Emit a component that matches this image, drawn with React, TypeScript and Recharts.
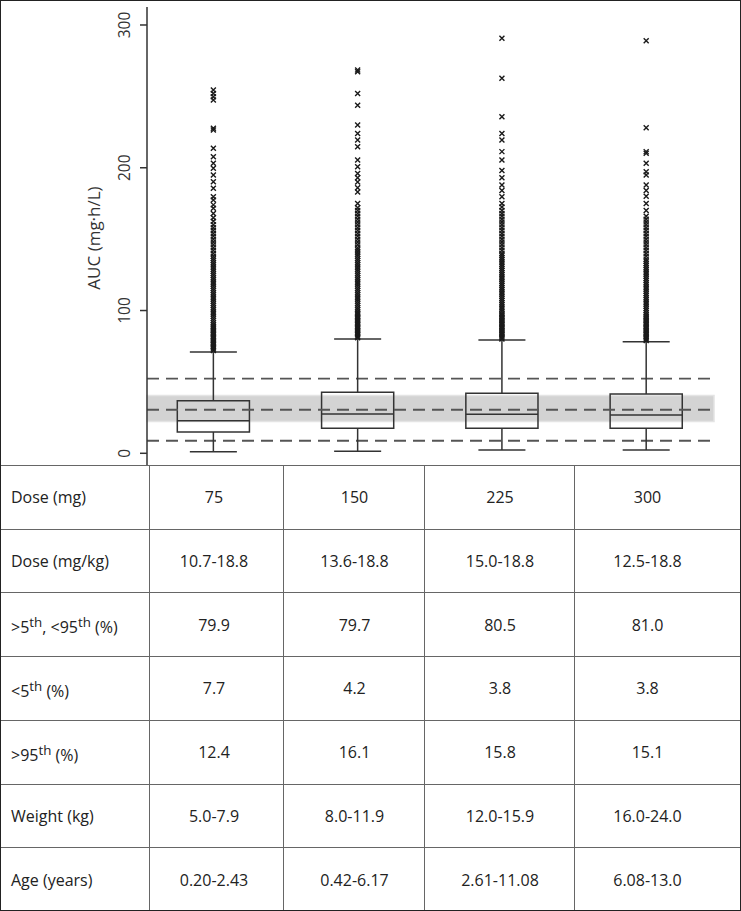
import React from "react";
import {
  ComposedChart,
  XAxis,
  YAxis,
  Scatter,
  ReferenceArea,
  ReferenceLine,
} from "recharts";

// Box plot summaries per dose group (AUC, mg·h/L)
const doses = ["75", "150", "225", "300"];
const whiskerLow = [1.1, 1.5, 2.3, 2.3];
const q1 = [14.9, 17.5, 17.5, 17.5];
const median = [22.8, 27.5, 27.3, 26.8];
const q3 = [36.8, 42.7, 42.0, 41.5];
const whiskerHigh = [71, 80, 79.4, 78.2];

// Target band and dashed reference levels
const targetBand = [22.3, 40.5];
const targetLines = [8.8, 30.5, 52.3];

const yTicks = [0, 100, 200, 300];

// Outliers (dense column, then sparse points)
const outliers75 = [
  72, 73, 74, 75, 76, 77, 78, 79, 80, 81, 82, 83, 84, 85, 86, 87, 88, 89, 90, 91.5, 93, 94.5, 96,
  97.5, 99, 100.5, 102, 103.5, 105, 106.5, 108, 109.5, 111, 112.5, 114, 115.5, 117, 118.5, 120,
  121.5, 123, 124.5, 126, 127.5, 129, 130.5, 132, 133.5, 135, 136.5, 138, 140, 142, 144, 146, 148,
  150, 152, 154, 156, 158, 160, 162.5, 165, 168, 171.6, 174, 177.4, 179.7, 185.6, 190.2, 194.9,
  199.6, 203.1, 207.7, 213.6, 226.4, 227.6, 247.5, 249.8, 252, 254.5,
];
const outliers150 = [
  81, 82, 83, 84, 85, 86, 87, 88, 89, 90, 91, 92, 93, 94, 95, 96, 97, 98, 99, 100.5, 102, 103.5,
  105, 106.5, 108, 109.5, 111, 112.5, 114, 115.5, 117, 118.5, 120, 121.5, 123, 124.5, 126, 127.5,
  129, 130.5, 132, 133.5, 135, 136.5, 138, 139.5, 141, 142.5, 144, 146, 148, 150, 152, 154, 156,
  158, 160, 162, 164, 166, 168, 170, 172, 175, 183, 186, 190, 193, 196, 200.7, 205.4, 214.7,
  219.4, 224, 230, 243.8, 252, 267.3, 268.5,
];
const outliers225 = [
  80, 81, 82, 83, 84, 85, 86, 87, 88, 89, 90, 91, 92, 93, 94, 95, 96, 97, 98, 99.5, 101, 102.5,
  104, 105.5, 107, 108.5, 110, 111.5, 113, 114.5, 116, 117.5, 119, 120.5, 122, 123.5, 125, 126.5,
  128, 129.5, 131, 132.5, 134, 135.5, 137, 138.5, 140, 142, 144, 146, 148, 150, 152, 154, 156,
  158, 160, 162, 164, 166, 168, 170, 172.5, 175, 179.7, 184, 188, 193, 198, 205.4, 211.3, 219.4,
  224, 235.8, 262.7, 290.7,
];
const outliers300 = [
  79, 80, 81, 82, 83, 84, 85, 86, 87, 88, 89, 90, 91, 92, 93, 94, 95, 96, 97, 98.5, 100, 101.5,
  103, 104.5, 106, 107.5, 109, 110.5, 112, 113.5, 115, 116.5, 118, 119.5, 121, 122.5, 124, 125.5,
  127, 128.5, 130, 131.5, 133, 134.5, 136, 138, 140, 142, 144, 146, 148, 150, 152, 154, 156, 158,
  160, 162, 164, 166, 170, 175, 180, 184, 188, 194.9, 197.2, 203.1, 210.1, 211.3, 228, 289,
];
const outlierGroups = [outliers75, outliers150, outliers225, outliers300];

// Table beneath the plot
const rowLabels: React.ReactNode[] = [
  "Dose (mg)",
  "Dose (mg/kg)",
  <>&gt;5<sup>th</sup>, &lt;95<sup>th</sup> (%)</>,
  <>&lt;5<sup>th</sup> (%)</>,
  <>&gt;95<sup>th</sup> (%)</>,
  "Weight (kg)",
  "Age (years)",
];
const doseMgKg = ["10.7-18.8", "13.6-18.8", "15.0-18.8", "12.5-18.8"];
const within = ["79.9", "79.7", "80.5", "81.0"];
const below5 = ["7.7", "4.2", "3.8", "3.8"];
const above95 = ["12.4", "16.1", "15.8", "15.1"];
const weights = ["5.0-7.9", "8.0-11.9", "12.0-15.9", "16.0-24.0"];
const ages = ["0.20-2.43", "0.42-6.17", "2.61-11.08", "6.08-13.0"];
const tableRows = [doses, doseMgKg, within, below5, above95, weights, ages];

const FONT = "'Open Sans', 'Noto Sans', sans-serif";
const INK = "#333";

const outlierData = outlierGroups.flatMap((vals, i) => vals.map(v => ({ x: i + 1, y: v })));

const Cross = (props: any) => {
  const { cx, cy } = props;
  if (cx == null || cy == null) return null;
  const s = 2.5;
  return (
    <path
      d={`M${cx - s},${cy - s}L${cx + s},${cy + s}M${cx + s},${cy - s}L${cx - s},${cy + s}`}
      stroke="#1a1a1a"
      strokeWidth={1.4}
      fill="none"
    />
  );
};

const YTick = (props: any) => {
  const { x, y, payload } = props;
  const tx = x - 8;
  return (
    <text
      x={tx}
      y={y}
      transform={`rotate(-90, ${tx}, ${y})`}
      textAnchor="middle"
      fontSize={15.5}
      fontFamily={FONT}
      fill={INK}
    >
      {payload.value}
    </text>
  );
};

const YLabel = (props: any) => {
  const { viewBox } = props;
  const x = viewBox.x + 13;
  const y = viewBox.y + viewBox.height / 2 + 2;
  return (
    <text
      x={x}
      y={y}
      transform={`rotate(-90, ${x}, ${y})`}
      textAnchor="middle"
      fontSize={17}
      fontFamily={FONT}
      fill={INK}
    >
      AUC (mg·h/L)
    </text>
  );
};

const HALF_BOX = 0.25;
const HALF_CAP = 0.163;
const boxStroke = { stroke: INK, strokeWidth: 1.5 };

export default function App() {
  const colWidths = [149, 134, 141, 150, 167];

  return (
    <div style={{ position: "absolute", left: 0, top: 0, width: 741, height: 911, background: "#fff" }}>
      <ComposedChart width={741} height={465} margin={{ top: 7, right: 27, bottom: 0, left: 87 }}>
        <XAxis type="number" dataKey="x" domain={[0.54, 4.47]} allowDataOverflow hide />
        <YAxis
          type="number"
          dataKey="y"
          width={60}
          domain={[-8.2, 312.6]}
          allowDataOverflow
          ticks={yTicks}
          tick={<YTick />}
          tickSize={7}
          stroke={INK}
          strokeWidth={1.5}
          label={<YLabel />}
        />

        <ReferenceArea
          y1={targetBand[0]}
          y2={targetBand[1]}
          fill="#d3d3d3"
          fillOpacity={1}
          stroke="#e4e4e4"
          strokeWidth={1.5}
        />
        {targetLines.map(v => (
          <ReferenceLine
            key={`t${v}`}
            y={v}
            stroke="#555"
            strokeWidth={1.8}
            strokeDasharray="12 7"
          />
        ))}

        {doses.map((d, i) => (
          <ReferenceArea
            key={`box${d}`}
            x1={i + 1 - HALF_BOX}
            x2={i + 1 + HALF_BOX}
            y1={q1[i]}
            y2={q3[i]}
            fill="none"
            fillOpacity={0}
            {...boxStroke}
          />
        ))}
        {doses.map((d, i) => (
          <ReferenceLine
            key={`med${d}`}
            segment={[{ x: i + 1 - HALF_BOX, y: median[i] }, { x: i + 1 + HALF_BOX, y: median[i] }]}
            {...boxStroke}
          />
        ))}
        {doses.map((d, i) => (
          <ReferenceLine
            key={`wu${d}`}
            segment={[{ x: i + 1, y: q3[i] }, { x: i + 1, y: whiskerHigh[i] }]}
            {...boxStroke}
          />
        ))}
        {doses.map((d, i) => (
          <ReferenceLine
            key={`wl${d}`}
            segment={[{ x: i + 1, y: whiskerLow[i] }, { x: i + 1, y: q1[i] }]}
            {...boxStroke}
          />
        ))}
        {doses.map((d, i) => (
          <ReferenceLine
            key={`cu${d}`}
            segment={[{ x: i + 1 - HALF_CAP, y: whiskerHigh[i] }, { x: i + 1 + HALF_CAP, y: whiskerHigh[i] }]}
            {...boxStroke}
          />
        ))}
        {doses.map((d, i) => (
          <ReferenceLine
            key={`cl${d}`}
            segment={[{ x: i + 1 - HALF_CAP, y: whiskerLow[i] }, { x: i + 1 + HALF_CAP, y: whiskerLow[i] }]}
            {...boxStroke}
          />
        ))}

        <Scatter data={outlierData} shape={<Cross />} isAnimationActive={false} />
      </ComposedChart>

      <table
        style={{
          position: "absolute",
          left: 0,
          top: 465,
          width: 741,
          height: 446,
          borderCollapse: "collapse",
          tableLayout: "fixed",
          fontFamily: FONT,
          fontSize: 16,
          color: "#222",
        }}
      >
        <colgroup>
          {colWidths.map((w, i) => (
            <col key={i} style={{ width: w }} />
          ))}
        </colgroup>
        <tbody>
          {tableRows.map((row, r) => (
            <tr key={r} style={{ height: 446 / 7 }}>
              <td style={{ border: "1px solid #666", paddingLeft: 10, lineHeight: "18px" }}>{rowLabels[r]}</td>
              {row.map((cell, c) => (
                <td
                  key={c}
                  style={{
                    border: "1px solid #666",
                    textAlign: "center",
                    paddingRight: c === 3 ? 22 : c === 0 ? 6 : 0,
                    lineHeight: "18px",
                  }}
                >
                  {cell}
                </td>
              ))}
            </tr>
          ))}
        </tbody>
      </table>

      <div
        style={{
          position: "absolute",
          inset: 0,
          border: "1.5px solid #222",
          pointerEvents: "none",
        }}
      />
    </div>
  );
}
